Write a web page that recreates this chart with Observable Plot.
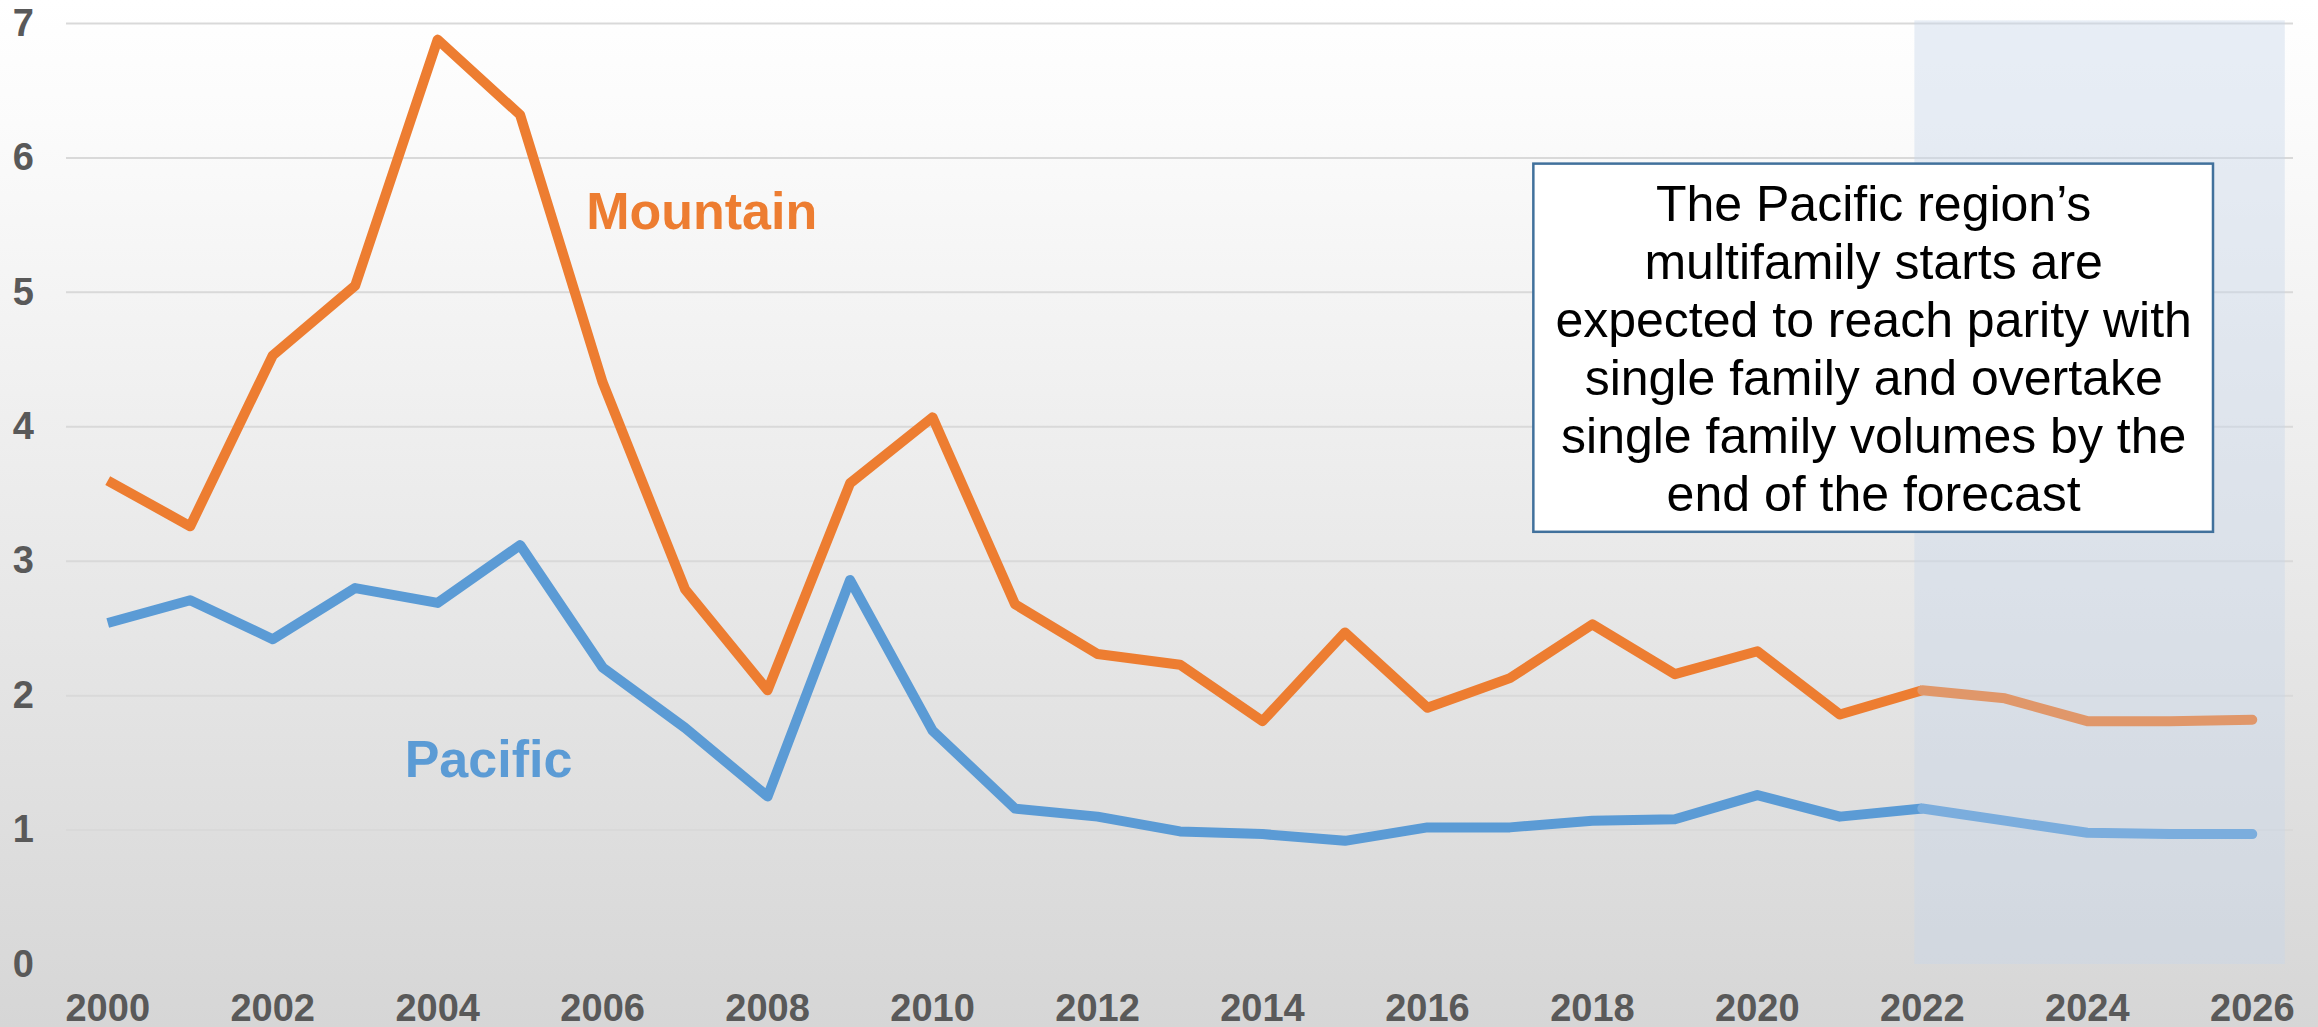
<!DOCTYPE html>
<html>
<head>
<meta charset="utf-8">
<script src="https://cdn.jsdelivr.net/npm/d3@7"></script>
<script src="https://cdn.jsdelivr.net/npm/@observablehq/plot@0.6"></script>
<style>
  html, body { margin: 0; padding: 0; }
  body {
    width: 2318px; height: 1027px; overflow: hidden;
    background: linear-gradient(to bottom, #ffffff 0%, #fbfbfb 12%, #d6d6d6 100%);
  }
  #chart svg { display: block; }
</style>
</head>
<body>
<div id="chart"></div>
<script>
// ---- data ----
const years = [2000, 2001, 2002, 2003, 2004, 2005, 2006, 2007, 2008, 2009, 2010, 2011, 2012, 2013,
               2014, 2015, 2016, 2017, 2018, 2019, 2020, 2021, 2022, 2023, 2024, 2025, 2026];
const mountain = [3.60, 3.26, 4.53, 5.05, 6.88, 6.32, 4.33, 2.79, 2.04, 3.58, 4.07, 2.68, 2.31, 2.23,
                  1.81, 2.47, 1.91, 2.13, 2.53, 2.16, 2.33, 1.86, 2.04, 1.98, 1.81, 1.81, 1.82];
const pacific  = [2.54, 2.71, 2.42, 2.80, 2.69, 3.12, 2.21, 1.76, 1.25, 2.86, 1.74, 1.16, 1.10, 0.99,
                  0.97, 0.92, 1.02, 1.02, 1.07, 1.08, 1.26, 1.10, 1.16, 1.07, 0.98, 0.97, 0.97];
const seriesNames = ["Mountain", "Pacific"];
const forecastStart = 2022;
const xTickLabels = [2000, 2002, 2004, 2006, 2008, 2010, 2012, 2014, 2016, 2018, 2020, 2022, 2024, 2026];
const yTickLabels = [0, 1, 2, 3, 4, 5, 6, 7];
const gridValues = [1, 2, 3, 4, 5, 6, 7];
const noteText = "The Pacific region\u2019s\nmultifamily starts are\nexpected to reach parity with\nsingle family and overtake\nsingle family volumes by the\nend of the forecast";

// ---- styling / layout ----
const colors = {Mountain: "#ED7D31", Pacific: "#5B9BD5"};
const forecastColors = {Mountain: "#E0976A", Pacific: "#7BADDD"};
const layout = {
  shade: {x1: 2021.91, x2: 2026.40, y1: 0, y2: 7.02},
  box: {x1: 2017.29, x2: 2025.53, y1: 3.215, y2: 5.954},
  note: {x: 2021.41, y: 5.834},
  labels: {Mountain: {x: 2005.8, y: 5.473}, Pacific: {x: 2003.6, y: 1.398}}
};

const rows = [];
years.forEach((year, i) => {
  rows.push({year, value: mountain[i], series: "Mountain"});
  rows.push({year, value: pacific[i], series: "Pacific"});
});
const hist = rows.filter(d => d.year <= forecastStart);
const fcst = rows.filter(d => d.year >= forecastStart);
const labelRows = seriesNames.map(s => ({series: s, x: layout.labels[s].x, y: layout.labels[s].y}));

const font = "'Liberation Sans', Arial, Helvetica, sans-serif";

const chart = Plot.plot({
  width: 2318,
  height: 1027,
  marginLeft: 66,
  marginRight: 25,
  marginTop: 23,
  marginBottom: 63,
  x: {domain: [1999.5, 2026.5]},
  y: {domain: [0, 7]},
  style: {background: "transparent", fontFamily: font, color: "#595959", overflow: "visible"},
  marks: [
    Plot.ruleY(gridValues, {stroke: "#d9d9d9", strokeWidth: 2}),
    Plot.rect([layout.shade], {x1: "x1", x2: "x2", y1: "y1", y2: "y2", fill: "rgb(199,215,234)", fillOpacity: 0.42}),
    Plot.line(hist, {x: "year", y: "value", z: "series", stroke: d => colors[d.series],
      strokeWidth: 10, strokeLinejoin: "round", strokeLinecap: "butt"}),
    Plot.line(fcst, {x: "year", y: "value", z: "series", stroke: d => forecastColors[d.series],
      strokeWidth: 10, strokeLinejoin: "round", strokeLinecap: "round"}),
    Plot.axisY(yTickLabels, {tickSize: 0, tickPadding: 32.5, fontSize: 38, fontWeight: "bold", fill: "#595959", label: null,
      tickFormat: d => String(d)}),
    Plot.axisX(xTickLabels, {tickSize: 0, tickPadding: 30, fontSize: 38, fontWeight: "bold", fill: "#595959", label: null,
      tickFormat: d => String(d)}),
    Plot.text(labelRows, {x: "x", y: "y", text: "series", fill: d => colors[d.series],
      fontSize: 52, fontWeight: "bold", textAnchor: "start", lineAnchor: "bottom"}),
    Plot.rect([layout.box], {x1: "x1", x2: "x2", y1: "y1", y2: "y2", fill: "white", stroke: "#41719C", strokeWidth: 2.5}),
    Plot.text([{...layout.note, text: noteText}], {x: "x", y: "y", text: "text", fill: "black",
      fontSize: 50, fontWeight: "normal", textAnchor: "middle", lineAnchor: "top", lineHeight: 1.16})
  ]
});
document.getElementById("chart").appendChild(chart);
</script>
</body>
</html>
